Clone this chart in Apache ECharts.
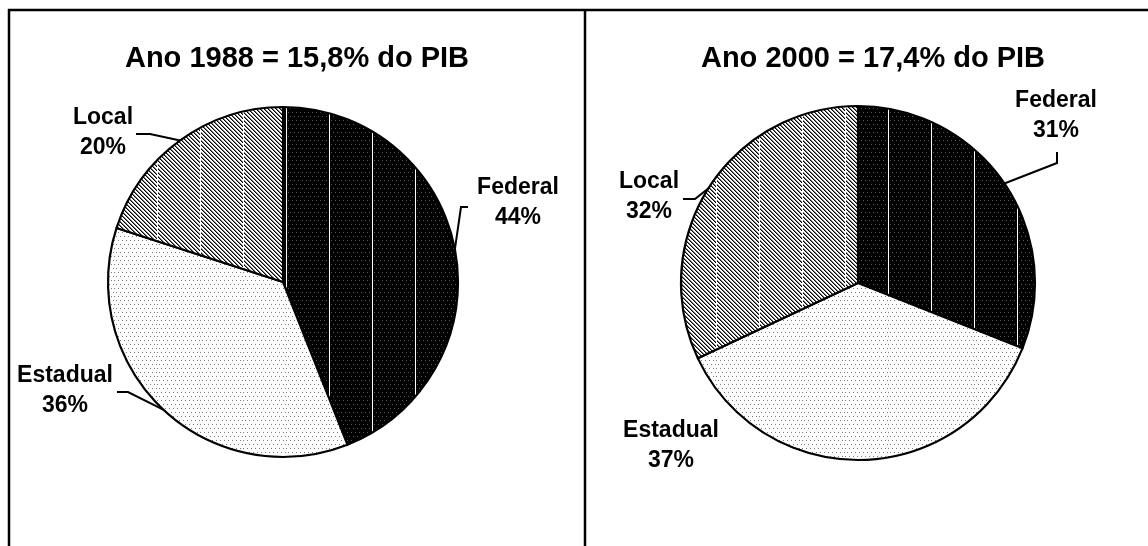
<!DOCTYPE html>
<html>
<head>
<meta charset="utf-8">
<script src="https://cdn.jsdelivr.net/npm/echarts@6/dist/echarts.min.js"></script>
<style>
  html, body { margin: 0; padding: 0; background: #fff; }
  #chart { width: 1148px; height: 546px; }
</style>
</head>
<body>
<div id="chart"></div>
<script>
var categories = ['Federal', 'Estadual', 'Local'];
var values1988 = [44, 36, 20];
var values2000 = [31, 37, 32];
var titles = ['Ano 1988 = 15,8% do PIB', 'Ano 2000 = 17,4% do PIB'];

// label placement: text centre, then bend and end of the leader line
var labelPos = [
  [
    { x: 518, y: 203, line: [[461, 207], [468, 207]] },
    { x: 65, y: 391, line: [[128, 392], [117, 392]] },
    { x: 103, y: 133, line: [[150, 134], [136, 134]] }
  ],
  [
    { x: 1056, y: 116, line: [[1057, 163], [1057, 152]] },
    { x: 671, y: 446, line: null },
    { x: 649, y: 197, line: [[695, 199], [683, 199]] }
  ]
];

var FONT = '"Liberation Sans", Arial, sans-serif';

function makeTile(kind) {
  var w = 43, h = 8;
  var c = document.createElement('canvas');
  c.width = w; c.height = h;
  var ctx = c.getContext('2d');
  var x, y;
  if (kind === 'federal') {
    ctx.fillStyle = '#000';
    ctx.fillRect(0, 0, w, h);
    ctx.fillStyle = '#5a5a5a';
    for (y = 0; y < h; y += 4) {
      for (x = (y % 8 === 0 ? 2 : 4); x < w - 1; x += 4) ctx.fillRect(x, y, 1, 1);
    }
    ctx.fillStyle = '#fff';
    ctx.fillRect(0, 0, 1, h);
  } else if (kind === 'estadual') {
    ctx.fillStyle = '#fff';
    ctx.fillRect(0, 0, w, h);
    ctx.fillStyle = '#7a7a7a';
    for (y = 0; y < h; y += 4) {
      for (x = (y % 8 === 0 ? 0 : 2); x < w; x += 4) ctx.fillRect(x, y, 1, 1);
    }
  } else {
    ctx.fillStyle = '#fff';
    ctx.fillRect(0, 0, w, h);
    for (y = 0; y < h; y++) {
      for (x = 1; x < w; x++) {
        var m = ((x - y) % 4 + 4) % 4;
        if (m === 0) { ctx.fillStyle = '#000'; ctx.fillRect(x, y, 1, 1); }
        else if (m === 1) { ctx.fillStyle = '#777'; ctx.fillRect(x, y, 1, 1); }
      }
    }
    ctx.fillStyle = '#fff';
    ctx.fillRect(0, 0, 1, h);
  }
  return { image: c, repeat: 'repeat', x: 28, y: 0 };
}

var fills = {
  Federal: makeTile('federal'),
  Estadual: makeTile('estadual'),
  Local: makeTile('local')
};

function buildData(values, si) {
  return categories.map(function (name, i) {
    var item = { name: name, value: values[i], itemStyle: { color: fills[name] } };
    if (!labelPos[si][i].line) item.labelLine = { show: false };
    return item;
  });
}

function pieSeries(values, si, center, radius) {
  return {
    type: 'pie',
    center: center,
    radius: radius,
    startAngle: 90,
    clockwise: true,
    avoidLabelOverlap: false,
    silent: true,
    itemStyle: { borderColor: '#000', borderWidth: 2.2 },
    label: {
      show: true,
      formatter: '{b}\n{d}%',
      color: '#000',
      fontFamily: FONT,
      fontWeight: 'bold',
      fontSize: 23,
      lineHeight: 30,
      align: 'center'
    },
    labelLine: {
      show: true,
      length: 10,
      length2: 10,
      lineStyle: { color: '#000', width: 2 }
    },
    labelLayout: function (p) {
      var cfg = labelPos[si][p.dataIndex];
      var out = { x: cfg.x, y: cfg.y, align: 'center', verticalAlign: 'middle' };
      if (cfg.line && p.labelLinePoints) {
        out.labelLinePoints = [p.labelLinePoints[0], cfg.line[0], cfg.line[1]];
      }
      return out;
    },
    data: buildData(values, si)
  };
}

var chart = echarts.init(document.getElementById('chart'), null, { renderer: 'canvas' });
chart.setOption({
  backgroundColor: '#fff',
  animation: false,
  title: [
    {
      text: titles[0], left: 292, top: 39, textAlign: 'center',
      textStyle: { fontFamily: FONT, fontWeight: 'bold', fontSize: 29, color: '#000' }
    },
    {
      text: titles[1], left: 868, top: 39, textAlign: 'center',
      textStyle: { fontFamily: FONT, fontWeight: 'bold', fontSize: 29, color: '#000' }
    }
  ],
  graphic: [
    { type: 'line', shape: { x1: 8, y1: 10, x2: 1148, y2: 10 }, style: { stroke: '#000', lineWidth: 2.5 } },
    { type: 'line', shape: { x1: 9, y1: 9, x2: 9, y2: 546 }, style: { stroke: '#000', lineWidth: 2.5 } },
    { type: 'line', shape: { x1: 585, y1: 9, x2: 585, y2: 546 }, style: { stroke: '#000', lineWidth: 2.5 } }
  ],
  series: [
    pieSeries(values1988, 0, [283, 282], 175),
    pieSeries(values2000, 1, [858, 283], 177)
  ]
});
</script>
</body>
</html>
